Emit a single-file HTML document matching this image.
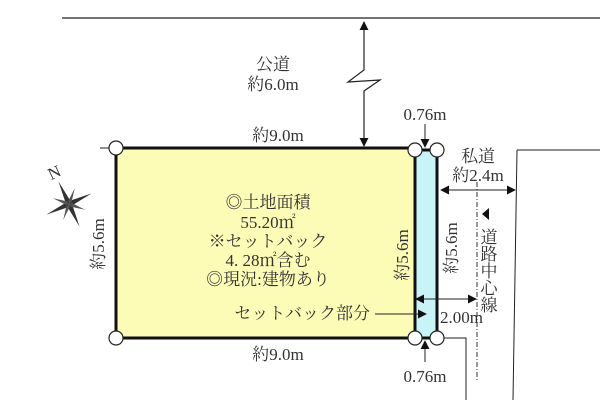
<!DOCTYPE html>
<html><head><meta charset="utf-8"><style>
body{margin:0;background:#fff}
svg{display:block}
text{font-family:"Liberation Serif","Noto Serif CJK JP","Noto Serif CJK SC",serif;fill:#333;font-size:17px}
</style></head><body>
<svg width="600" height="411" viewBox="0 0 600 411" xmlns="http://www.w3.org/2000/svg">
<defs>
<marker id="a" viewBox="0 0 10 10" refX="9" refY="5" markerWidth="9" markerHeight="9" orient="auto-start-reverse" markerUnits="userSpaceOnUse"><path d="M0,0L10,5L0,10z" fill="#111"/></marker>
</defs>
<line x1="62" y1="18" x2="600" y2="18" stroke="#222" stroke-width="1.2"/>
<line x1="100" y1="148" x2="116" y2="148" stroke="#222" stroke-width="1"/>
<rect x="116" y="148" width="299" height="190" fill="#fdfcb6" stroke="#111" stroke-width="3"/>
<rect x="415" y="150" width="22" height="188" fill="#c8f4f8" stroke="#111" stroke-width="3"/>
<polyline points="364,22 364,70 348,82 380,80 364,91 364,146" fill="none" stroke="#222" stroke-width="1.2" marker-start="url(#a)" marker-end="url(#a)"/>
<text x="273" y="70" text-anchor="middle">公道</text>
<text x="273" y="90" text-anchor="middle">約6.0m</text>
<text x="278" y="141" text-anchor="middle">約9.0m</text>
<text x="278" y="360" text-anchor="middle">約9.0m</text>
<polyline points="517,150 600,150" fill="none" stroke="#222" stroke-width="1"/>
<line x1="517" y1="150" x2="513" y2="400" stroke="#222" stroke-width="1"/>
<polyline points="437,338 466,338 466,400" fill="none" stroke="#222" stroke-width="1"/>
<line x1="477" y1="182" x2="477" y2="380" stroke="#333" stroke-width="1" stroke-dasharray="5,2,1,2"/>
<line x1="441" y1="190" x2="515" y2="190" stroke="#222" stroke-width="1" marker-start="url(#a)" marker-end="url(#a)"/>
<text x="478" y="162" text-anchor="middle">私道</text>
<text x="478" y="181" text-anchor="middle">約2.4m</text>
<line x1="416" y1="299" x2="476" y2="299" stroke="#222" stroke-width="1" marker-start="url(#a)" marker-end="url(#a)"/>
<text x="440" y="323">2.00m</text>
<line x1="375" y1="314" x2="426" y2="314" stroke="#222" stroke-width="1" marker-end="url(#a)"/>
<text x="370" y="319" text-anchor="end" font-size="14">セットバック部分</text>
<path d="M489,208 L489,220 L482,214z" fill="#111"/>
<text font-size="13" x="487" y="228" writing-mode="tb">道路中心線</text>
<text x="425" y="120" text-anchor="middle">0.76m</text>
<line x1="425" y1="124" x2="425" y2="147" stroke="#222" stroke-width="1" marker-end="url(#a)"/>
<line x1="425" y1="362" x2="425" y2="341" stroke="#222" stroke-width="1" marker-end="url(#a)"/>
<text x="425" y="382" text-anchor="middle">0.76m</text>
<text transform="translate(104,244) rotate(-90)" text-anchor="middle">約5.6m</text>
<text transform="translate(408,255) rotate(-90)" text-anchor="middle">約5.6m</text>
<text transform="translate(457,248) rotate(-90)" text-anchor="middle">約5.6m</text>
<g text-anchor="middle">
<text x="268" y="208" font-size="18">◎土地面積</text>
<text x="268" y="228" font-size="18">55.20㎡</text>
<text x="268" y="247" font-size="18">※セットバック</text>
<text x="268" y="266" font-size="18">4. 28㎡含む</text>
<text x="268" y="285" font-size="18">◎現況:建物あり</text>
</g>
<g fill="#fff" stroke="#222" stroke-width="1.2">
<circle cx="116" cy="148" r="7"/><circle cx="116" cy="338" r="7"/>
<circle cx="415" cy="150" r="7"/><circle cx="437" cy="150" r="7"/>
<circle cx="415" cy="338" r="7"/><circle cx="437" cy="338" r="7"/>
</g>
<g transform="translate(69,204) rotate(-25)">
<path d="M0,-25 L2.5,-3 L0,0 L-2.5,-3z M0,25 L2.5,3 L0,0 L-2.5,3z M-25,0 L-3,2.5 L0,0 L-3,-2.5z M25,0 L3,2.5 L0,0 L3,-2.5z" fill="#333"/>
<path d="M-12,-12 L1,-2 L-2,1z M12,12 L-1,2 L2,-1z M12,-12 L-2,-1 L1,2z M-12,12 L2,1 L-1,-2z" fill="#555"/>
<text x="0" y="-29" text-anchor="middle" font-size="13">N</text>
</g>
</svg>
</body></html>
